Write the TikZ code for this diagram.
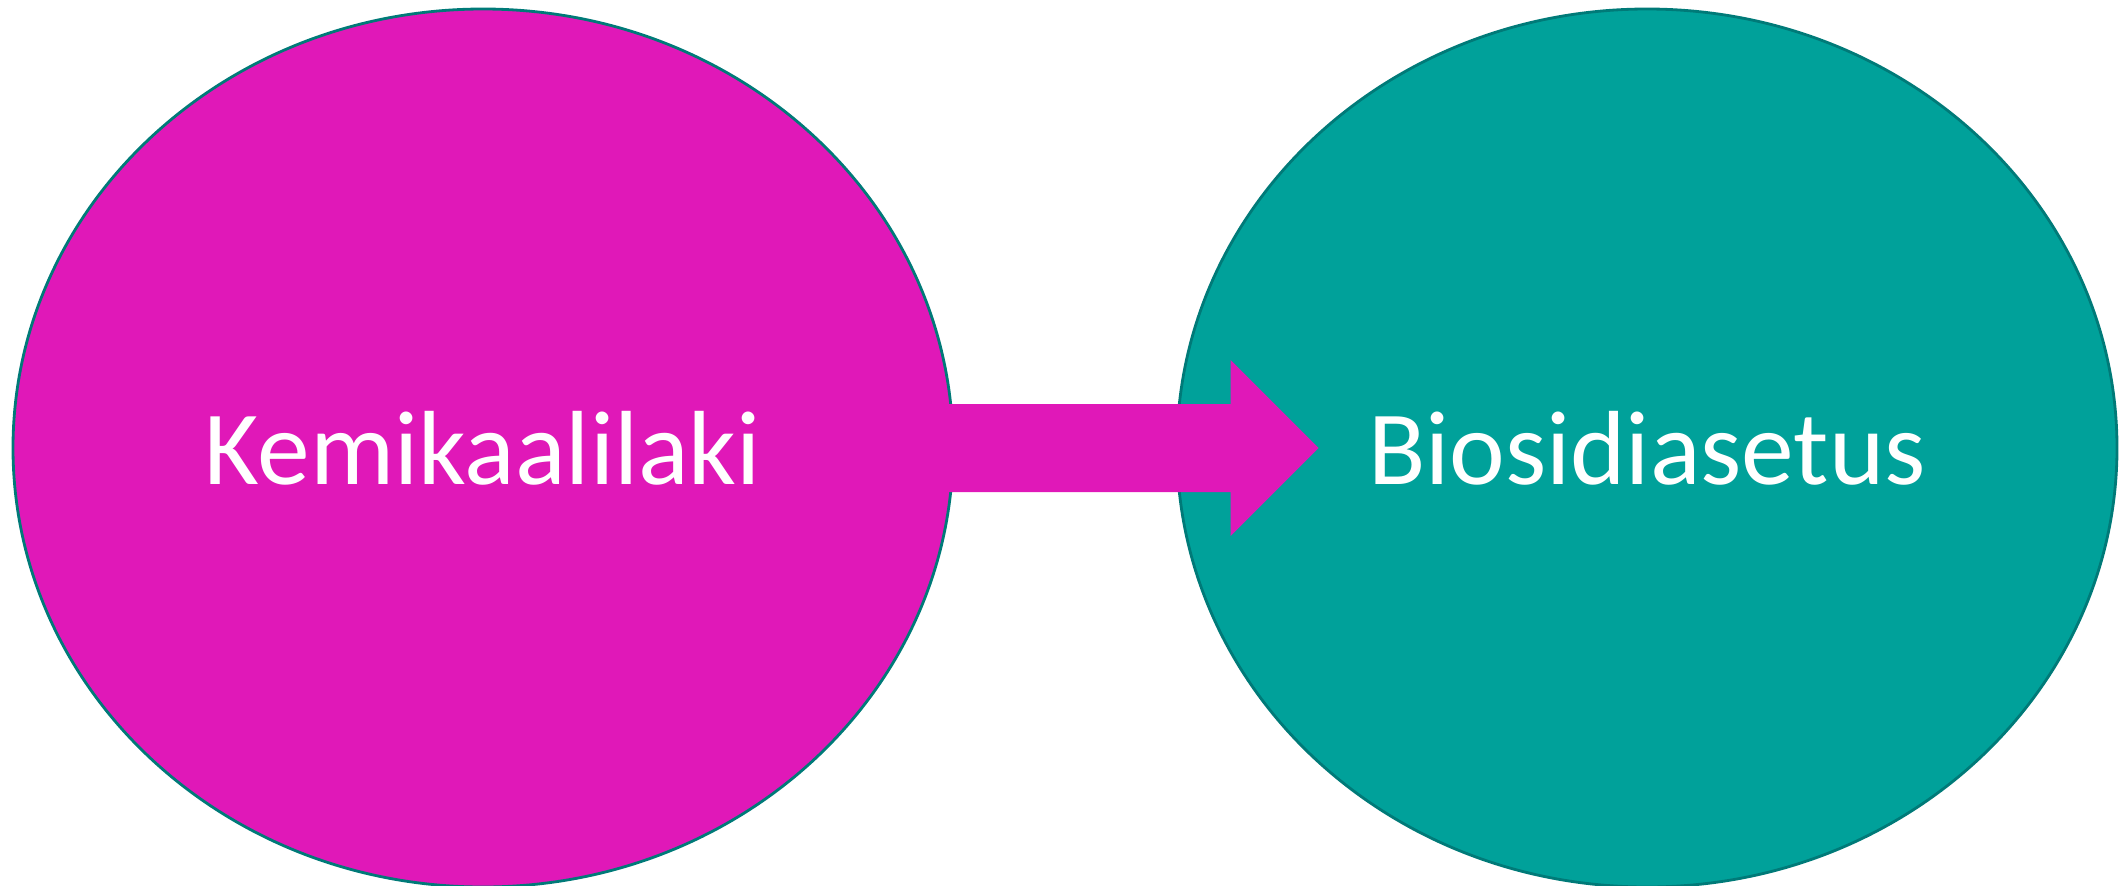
\documentclass[tikz,border=0pt]{standalone}
\usepackage{fontspec}
\setmainfont{Carlito}
\usepackage{tikz}
\usetikzlibrary{positioning,calc,shapes.geometric}
\definecolor{KemiPink}{RGB}{224,24,184}
\definecolor{BioTeal}{RGB}{0,161,154}
\definecolor{EdgeTeal}{RGB}{0,122,120}
\begin{document}
\begin{tikzpicture}[
        % Style for the two ellipses
        blob/.style={
            ellipse,
            draw=EdgeTeal,
            line width=0.8pt,
            minimum width=9.40cm,
            minimum height=8.78cm,
            inner sep=0pt,
            text=white,
            font=\fontsize{30}{36}\selectfont
        },
        % Style for the block arrow
        bigarrow/.style={
            fill=KemiPink
        }
    ]

        % --- 1. FRAME ---
        \useasboundingbox (0,0) rectangle (21.22,8.85);

        % --- 2. ELLIPSES ---
        \node[blob, fill=KemiPink] (kemi) at (4.83, 4.37) {Kemikaalilaki};
        \node[blob, fill=BioTeal] (biosidi) at (16.47, 4.37) {Biosidiasetus};

        % --- 3. ARROW ---
        \coordinate (from) at ([xshift=-0.15cm]kemi.east);
        \coordinate (to) at ([xshift=1.43cm]biosidi.west);
        \fill[bigarrow] ($(from)+(0,0.44)$) -- ($(to)+(-0.88,0.44)$)
            -- ($(to)+(-0.88,0.88)$) -- (to) -- ($(to)+(-0.88,-0.88)$)
            -- ($(to)+(-0.88,-0.44)$) -- ($(from)+(0,-0.44)$) -- cycle;

    \end{tikzpicture}
\end{document}
